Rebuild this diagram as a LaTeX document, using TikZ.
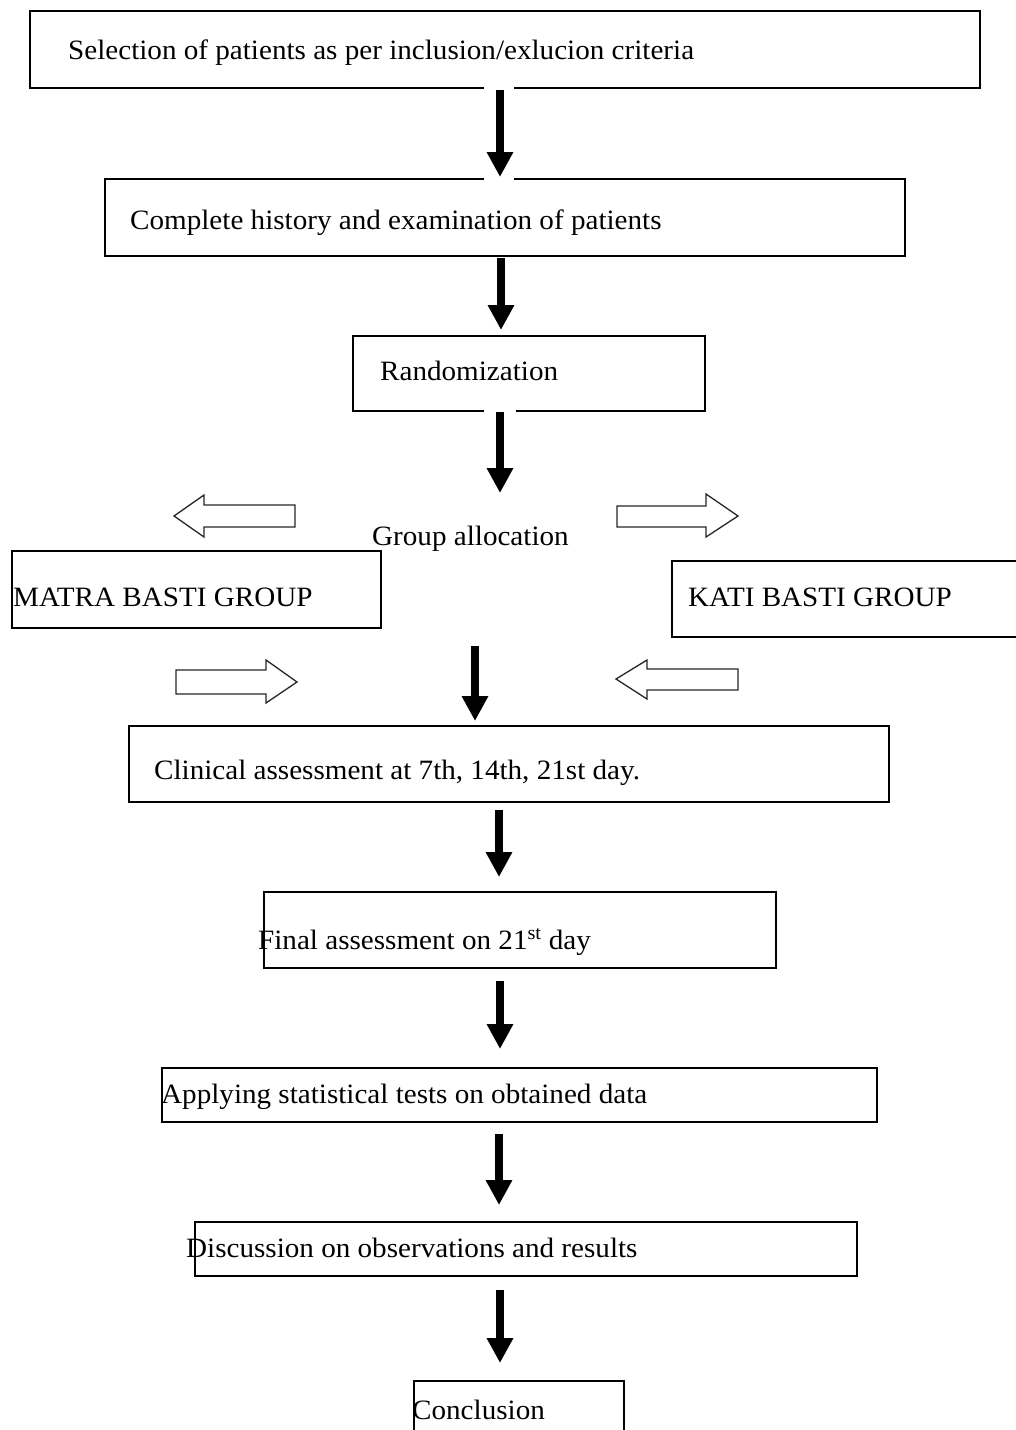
\documentclass[tikz,border=0pt]{standalone}
\usepackage{fontspec}
\setmainfont{Liberation Serif}[FakeStretch=1.04]
\usetikzlibrary{arrows.meta}
\tikzset{
  boxnode/.style={draw=black, line width=1.6pt, rectangle, inner sep=0pt, anchor=north west},
  boxline/.style={draw=black, line width=1.6pt},
  label/.style={anchor=base west, inner sep=0pt, font=\fontsize{28}{33}\selectfont},
  bigarrow/.style={line width=7.5pt, -{Triangle[length=25pt,width=25pt]}},
  hollow/.style={draw=black!85, line width=1.3pt, fill=white, line join=miter},
  patch/.style={fill=white, draw=none}
}
\begin{document}
\begin{tikzpicture}[x=1pt,y=-1pt]
\fill[white] (0,0) rectangle (1016,1430);
\useasboundingbox (0,0) rectangle (1016,1430);

% boxes
\node[boxnode, minimum width=950pt, minimum height=77pt] (b1) at (29,10) {};
\node[boxnode, minimum width=800pt, minimum height=77pt] (b2) at (104,178) {};
\node[boxnode, minimum width=352pt, minimum height=75pt] (b3) at (352,335) {};
\node[boxnode, minimum width=369pt, minimum height=77pt] (matra) at (11,550) {};
\draw[boxline] (1017,561) -- (672,561) -- (672,637) -- (1017,637);
\node[boxnode, minimum width=760pt, minimum height=76pt] (b5) at (128,725) {};
\node[boxnode, minimum width=512pt, minimum height=76pt] (b6) at (263,891) {};
\node[boxnode, minimum width=715pt, minimum height=54pt] (b7) at (161,1067) {};
\node[boxnode, minimum width=662pt, minimum height=54pt] (b8) at (194,1221) {};
\draw[boxline] (414,1432) -- (414,1381) -- (624,1381) -- (624,1432);

% texts
\node[label] (t1) at (68,59) {Selection of patients as per inclusion/exlucion criteria};
\node[label] (t2) at (130,229) {Complete history and examination of patients};
\node[label] (t3) at (380,380) {Randomization};
\node[label] (tg) at (372,545) {Group allocation};
\node[label] (tm) at (13,606) {MATRA BASTI GROUP};
\node[label] (tk) at (688,606) {KATI BASTI GROUP};
\node[label] (t5) at (154,779) {Clinical assessment at 7th, 14th, 21st day.};
\node[label] (t6) at (258,949) {Final assessment on 21\textsuperscript{st} day};
\node[label] (t7) at (161,1103) {Applying statistical tests on obtained data};
\node[label] (t8) at (186,1257) {Discussion on observations and results};
\node[label] (t9) at (412,1419) {Conclusion};

% white backgrounds of arrow images
\fill[patch] (484,84) rectangle (514,181);
\fill[patch] (484,407) rectangle (516,496);

% arrow coordinates
\coordinate (a1s) at (500,90);   \coordinate (a1e) at (500,177);
\coordinate (a2s) at (501,258);  \coordinate (a2e) at (501,330);
\coordinate (a3s) at (500,412);  \coordinate (a3e) at (500,493);
\coordinate (a4s) at (475,646);  \coordinate (a4e) at (475,721);
\coordinate (a5s) at (499,810);  \coordinate (a5e) at (499,877);
\coordinate (a6s) at (500,981);  \coordinate (a6e) at (500,1049);
\coordinate (a7s) at (499,1134); \coordinate (a7e) at (499,1205);
\coordinate (a8s) at (500,1290); \coordinate (a8e) at (500,1363);

\draw[bigarrow] (a1s) -- (a1e);
\draw[bigarrow] (a2s) -- (a2e);
\draw[bigarrow] (a3s) -- (a3e);
\draw[bigarrow] (a4s) -- (a4e);
\draw[bigarrow] (a5s) -- (a5e);
\draw[bigarrow] (a6s) -- (a6e);
\draw[bigarrow] (a7s) -- (a7e);
\draw[bigarrow] (a8s) -- (a8e);

% hollow arrows
\draw[hollow] (174,516) -- (204,495) -- (204,505) -- (295,505) -- (295,527) -- (204,527) -- (204,537) -- cycle;
\draw[hollow] (738,516) -- (706,494) -- (706,506) -- (617,506) -- (617,527) -- (706,527) -- (706,537) -- cycle;
\draw[hollow] (297,682) -- (266,660) -- (266,670) -- (176,670) -- (176,694) -- (266,694) -- (266,703) -- cycle;
\draw[hollow] (616,679) -- (647,660) -- (647,669) -- (738,669) -- (738,690) -- (647,690) -- (647,699) -- cycle;
\end{tikzpicture}
\end{document}
